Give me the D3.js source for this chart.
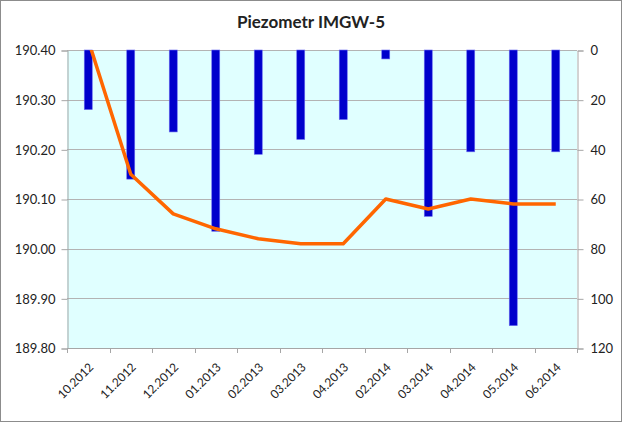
<!DOCTYPE html>
<html>
<head>
<meta charset="utf-8">
<script src="https://cdn.jsdelivr.net/npm/d3@7/dist/d3.min.js"></script>
<style>
  body { margin: 0; background: #fff; }
  text { font-family: Lato, "Open Sans", sans-serif; fill: #222; }
</style>
</head>
<body>
<svg id="chart" width="622" height="422"></svg>
<script>
var months = ["10.2012","11.2012","12.2012","01.2013","02.2013","03.2013","04.2013","02.2014","03.2014","04.2014","05.2014","06.2014"]
var level = [190.42, 190.15, 190.07, 190.04, 190.02, 190.01, 190.01, 190.10, 190.08, 190.10, 190.09, 190.09]  // orange line, left axis
var depth = [24, 52, 33, 73, 42, 36, 28, 3.6, 67, 41, 111, 41]  // blue bars, right axis
var leftTicks = [189.8, 189.9, 190.0, 190.1, 190.2, 190.3, 190.4]
var rightTicks = [0, 20, 40, 60, 80, 100, 120]

var svg = d3.select('#chart')
var pLeft = 67, pRight = 577, pTop = 50, pBottom = 348

svg.append('rect')
    .attr('x', 0.5).attr('y', 0.5).attr('width', 621).attr('height', 421)
    .attr('fill', '#fff').attr('stroke', '#8c8c8c')

svg.append('text')
    .attr('x', 311).attr('y', 28)
    .attr('text-anchor', 'middle')
    .style('font-size', '17px').style('font-weight', 'bold')
    .text('Piezometr IMGW-5')

var x = d3.scaleBand().domain(months).range([pLeft, pRight])
var yL = d3.scaleLinear().domain([189.8, 190.4]).range([pBottom, pTop])
var yR = d3.scaleLinear().domain([0, 120]).range([pTop, pBottom])

svg.append('rect')
    .attr('x', pLeft).attr('y', pTop).attr('width', pRight - pLeft).attr('height', pBottom - pTop)
    .attr('fill', '#e0ffff')

// gridlines
svg.append('g').selectAll('line')
    .data(leftTicks)
    .join('line')
    .attr('x1', pLeft).attr('x2', pRight)
    .attr('y1', function(d) { return Math.round(yL(d)) + 0.5 })
    .attr('y2', function(d) { return Math.round(yL(d)) + 0.5 })
    .attr('stroke', '#b3b3b3')

svg.append('clipPath').attr('id', 'plotclip')
    .append('rect').attr('x', pLeft).attr('y', pTop).attr('width', pRight - pLeft).attr('height', pBottom - pTop)

// bars
var bw = 8
svg.append('g').selectAll('rect')
    .data(depth)
    .join('rect')
    .attr('x', function(d, i) { return x(months[i]) + x.bandwidth() / 2 - bw / 2 })
    .attr('y', yR(0))
    .attr('width', bw)
    .attr('height', function(d) { return yR(d) - yR(0) })
    .attr('fill', '#0000cc')
    .attr('stroke', '#6b6bf0').attr('stroke-width', 0.6)

// line
var line = d3.line()
    .x(function(d, i) { return x(months[i]) + x.bandwidth() / 2 })
    .y(function(d) { return yL(d) })
svg.append('path')
    .datum(level)
    .attr('clip-path', 'url(#plotclip)')
    .attr('d', line)
    .attr('fill', 'none')
    .attr('stroke', '#ff6600')
    .attr('stroke-width', 3.5)
    .attr('stroke-linejoin', 'round')

// axes
var axL = d3.axisLeft(yL).tickValues(leftTicks).tickFormat(d3.format('.2f')).tickSize(6).tickPadding(6)
var gL = svg.append('g').attr('transform', 'translate(' + (pLeft + 0.5) + ',0.5)').call(axL)
var axR = d3.axisRight(yR).tickValues(rightTicks).tickSize(6).tickPadding(7)
var gR = svg.append('g').attr('transform', 'translate(' + (pRight + 0.5) + ',0.5)').call(axR)
var axB = d3.axisBottom(x).tickSize(0).tickFormat('')
var gB = svg.append('g').attr('transform', 'translate(0,' + (pBottom + 0.5) + ')').call(axB)

svg.append('g').selectAll('line')
    .data(months.concat(['end']))
    .join('line')
    .attr('x1', function(d, i) { return Math.round(pLeft + i * x.bandwidth()) + 0.5 })
    .attr('x2', function(d, i) { return Math.round(pLeft + i * x.bandwidth()) + 0.5 })
    .attr('y1', pBottom).attr('y2', pBottom + 5)
    .attr('stroke', '#a6a6a6')

;[gL, gR, gB].forEach(function(g) {
    g.selectAll('.domain').attr('stroke', '#a6a6a6')
    g.selectAll('.tick line').attr('stroke', '#a6a6a6')
    g.selectAll('text').style('font-size', '13px').attr('fill', '#222')
})
gB.selectAll('.domain').attr('d', 'M' + pLeft + ',0H' + pRight)

svg.append('g').selectAll('text')
    .data(months)
    .join('text')
    .attr('transform', function(d) {
        return 'translate(' + (x(d) + x.bandwidth() / 2 + 3) + ',' + (pBottom + 17) + ') rotate(-45)'
    })
    .attr('text-anchor', 'end')
    .attr('dy', '0.35em')
    .style('font-size', '12px')
    .text(function(d) { return d })
</script>
</body>
</html>
